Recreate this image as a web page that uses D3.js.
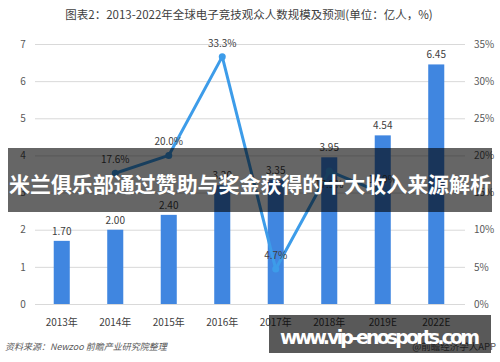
<!DOCTYPE html>
<html><head><meta charset="utf-8">
<script src="https://cdn.jsdelivr.net/npm/d3@7"></script>
<style>body{margin:0;background:#fff}svg{display:block}</style>
</head><body>
<svg id="c" width="500" height="362"></svg>
<script>
const categories = ["2013年","2014年","2015年","2016年","2017年","2018年","2019E","2022E"];
const viewers = [1.70, 2.00, 2.40, 3.20, 3.35, 3.95, 4.54, 6.45];
const growth = [null, 17.6, 20.0, 33.3, 4.7, 17.9, 14.9, null];
const leftTicks = [0,1,2,3,4,5,6,7];
const rightTicks = [0,5,10,15,20,25,30,35];
const title = "图表2：2013-2022年全球电子竞技观众人数规模及预测(单位：亿人，%)";
const source = "资料来源：Newzoo 前瞻产业研究院整理";
const credit = "@前瞻经济学人APP";
const banner1 = "米兰俱乐部通过赞助与奖金获得的十大收入来源解析";
const banner2 = "www.vip-enosports.com";

const svg = d3.select("#c");
const font = "'Noto Sans CJK SC','Microsoft YaHei',sans-serif";
const L = 35, R = 463, T = 44, B = 304;
const x = d3.scaleBand().domain(categories).range([L, R]).paddingInner(0.7).paddingOuter(0.35);
const y = d3.scaleLinear().domain([0, 7]).range([B, T]);
const y2 = d3.scaleLinear().domain([0, 35]).range([B, T]);

svg.append("text").attr("x", 249).attr("y", 19).attr("text-anchor", "middle")
  .attr("font-family", font).attr("font-size", 11.5).attr("fill", "#404040").text(title);

// grid
svg.append("g").selectAll("line").data(leftTicks).join("line")
  .attr("x1", L).attr("x2", R + 2).attr("y1", d => y(d) + 0.5).attr("y2", d => y(d) + 0.5)
  .attr("stroke", "#d9d9d9").attr("stroke-width", 1);

// left axis
const ya = d3.axisLeft(y).tickValues(leftTicks).tickSize(0).tickPadding(0).tickFormat(d3.format("d"));
const gl = svg.append("g").attr("transform", `translate(${L - 12},0)`).call(ya);
gl.select(".domain").remove();
gl.selectAll("text").attr("font-family", font).attr("font-size", 10).attr("fill", "#595959").attr("text-anchor", "middle");

// right axis
const y2a = d3.axisRight(y2).tickValues(rightTicks).tickSize(0).tickPadding(0).tickFormat(d => d + "%");
const gr = svg.append("g").attr("transform", `translate(${R + 11},0)`).call(y2a);
gr.select(".domain").remove();
gr.selectAll("text").attr("font-family", font).attr("font-size", 10).attr("fill", "#595959");

// x axis
const xa = d3.axisBottom(x).tickSize(0).tickPadding(0);
const gx = svg.append("g").attr("transform", `translate(0,${B + 15})`).call(xa);
gx.select(".domain").remove();
gx.selectAll("text").attr("font-family", font).attr("font-size", 10).attr("fill", "#404040");

// bars
svg.append("g").selectAll("rect").data(viewers).join("rect")
  .attr("x", (d, i) => x(categories[i])).attr("width", x.bandwidth())
  .attr("y", d => y(d)).attr("height", d => B - y(d)).attr("fill", "#4086e0");
svg.append("g").selectAll("text").data(viewers).join("text")
  .attr("x", (d, i) => x(categories[i]) + x.bandwidth() / 2).attr("y", d => y(d) - 6)
  .attr("text-anchor", "middle").attr("font-family", font).attr("font-size", 10).attr("fill", "#404040")
  .text(d => d.toFixed(2));

// line
const pts = growth.map((g, i) => ({c: categories[i], g})).filter(p => p.g !== null);
const cx = p => x(p.c) + x.bandwidth() / 2;
svg.append("path").datum(pts)
  .attr("d", d3.line().x(cx).y(p => y2(p.g)))
  .attr("fill", "none").attr("stroke", "#3d9ce9").attr("stroke-width", 3).attr("stroke-linejoin", "round");
svg.append("g").selectAll("circle").data(pts).join("circle")
  .attr("cx", cx).attr("cy", p => y2(p.g)).attr("r", 3.5).attr("fill", "#3d9ce9");
svg.append("g").selectAll("text").data(pts).join("text")
  .attr("x", cx).attr("y", (p, i) => p.c === "2018年" ? y2(p.g) + 17 : y2(p.g) - 10)
  .attr("text-anchor", "middle").attr("font-family", font).attr("font-size", 10).attr("fill", "#404040")
  .text(p => p.g.toFixed(1) + "%");

// footer
svg.append("text").attr("x", 5).attr("y", 350).attr("font-family", font).attr("font-size", 9)
  .attr("font-style", "italic").attr("fill", "#595959").text(source);
svg.append("text").attr("x", 496).attr("y", 350).attr("text-anchor", "end").attr("font-family", font)
  .attr("font-size", 9.5).attr("fill", "#595959").text(credit);

// overlay banners
svg.append("rect").attr("x", 8).attr("y", 148).attr("width", 484).attr("height", 64).attr("fill", "rgba(0,0,0,0.6)");
svg.append("text").attr("x", 250).attr("y", 192).attr("text-anchor", "middle").attr("font-family", font)
  .attr("font-weight", "bold").attr("font-size", 21).attr("fill", "#fff").attr("textLength", 482).text(banner1);
svg.append("rect").attr("x", 269).attr("y", 315).attr("width", 222).attr("height", 38).attr("fill", "rgba(0,0,0,0.65)");
svg.append("text").attr("x", 380).attr("y", 344).attr("text-anchor", "middle").attr("font-family", "'DejaVu Sans',sans-serif")
  .attr("font-weight", "bold").attr("font-size", 19).attr("fill", "#fff").attr("textLength", 200).text(banner2);
</script>
</body></html>
